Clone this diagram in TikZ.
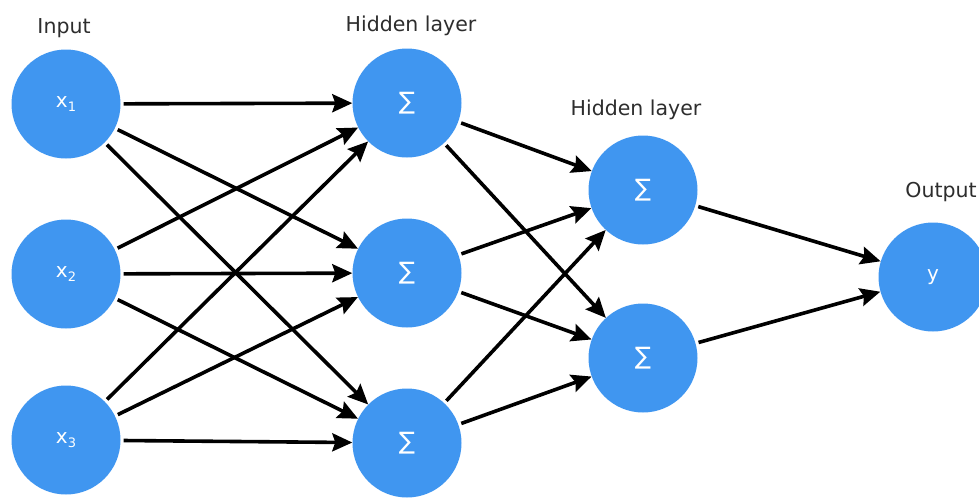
\documentclass[tikz,border=0pt]{standalone}
\usepackage{fontspec}
\setmainfont{DejaVu Sans}
\usetikzlibrary{arrows.meta}
\definecolor{neuron}{RGB}{64,150,240}
\definecolor{labelgray}{RGB}{45,45,45}
\newcommand{\inp}[1]{x\raisebox{-0.22em}{\fontsize{13}{13}\selectfont #1}}
\begin{document}
\begin{tikzpicture}[x=1pt,y=-1pt,
  neuronnode/.style={circle,fill=neuron,draw=none,minimum size=109pt,inner sep=0pt,
    text=white,font=\fontsize{20}{20}\selectfont},
  sumnode/.style={neuronnode,font=\fontsize{24}{24}\selectfont},
  layerlabel/.style={text=labelgray,font=\fontsize{20.5}{20.5}\selectfont},
  link/.style={line width=3.6pt,-{Stealth[length=20pt,width=18pt,inset=3pt]},
    shorten <=3pt}]
\useasboundingbox (0,0) rectangle (979,498);

% input layer
\node[neuronnode] (x1) at (66,104) {\inp{1}};
\node[neuronnode] (x2) at (66,274) {\inp{2}};
\node[neuronnode] (x3) at (66,440) {\inp{3}};

% first hidden layer
\node[sumnode] (h1) at (407,103) {∑};
\node[sumnode] (h2) at (407,273) {∑};
\node[sumnode] (h3) at (407,443) {∑};

% second hidden layer
\node[sumnode] (g1) at (643,190) {∑};
\node[sumnode] (g2) at (643,358) {∑};

% output
\node[neuronnode] (y) at (933,277) {y};

% layer titles
\node[layerlabel] (tin) at (64,28) {Input};
\node[layerlabel] (th1) at (411,26) {Hidden layer};
\node[layerlabel] (th2) at (636,110) {Hidden layer};
\node[layerlabel] (tout) at (941,192) {Output};

% connections
\foreach \a in {x1,x2,x3}
  \foreach \b in {h1,h2,h3}
    \draw[link] (\a) -- (\b);
\foreach \a in {h1,h2,h3}
  \foreach \b in {g1,g2}
    \draw[link] (\a) -- (\b);
\foreach \a in {g1,g2}
  \draw[link] (\a) -- (y);
\end{tikzpicture}
\end{document}
